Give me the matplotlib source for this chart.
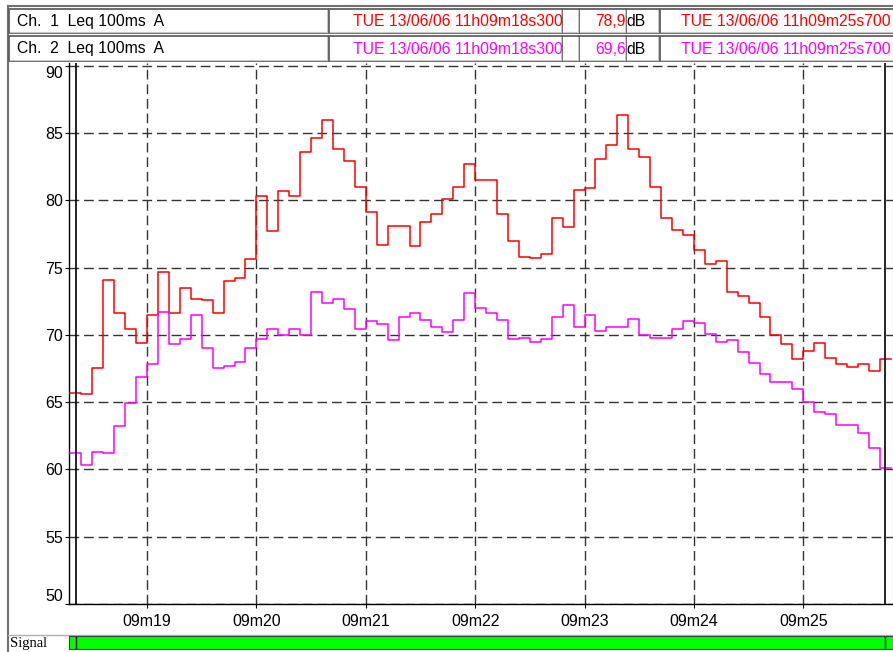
import matplotlib
matplotlib.use('Agg')
import matplotlib.pyplot as plt
import numpy as np
from matplotlib.patches import Rectangle

plt.rcParams['font.family'] = ['Liberation Sans', 'DejaVu Sans']

W, H = 893, 652

# Leq 100ms, one value per 100 ms bin, starting 11h09m18s300
T_START = 18.3
STEP = 0.1
ch1_db = [65.7, 65.6, 67.5, 74.1, 71.6, 70.4, 69.4, 71.5, 74.7, 71.6, 73.5, 72.7, 72.6, 71.6, 74.0, 74.2, 75.6, 80.3, 77.7, 80.7, 80.3,
          83.6, 84.6, 86.0, 83.8, 82.9, 81.0, 79.1, 76.7, 78.1, 78.1, 76.6, 78.4, 79.0, 80.1, 81.0, 82.7, 81.5, 81.5, 79.0, 77.0, 75.8,
          75.7, 76.0, 78.7, 78.0, 80.8, 80.9, 83.1, 84.1, 86.3, 83.8, 83.2, 81.0, 78.7, 77.8, 77.4, 76.3, 75.3, 75.5, 73.2, 72.9, 72.4,
          71.3, 70.0, 69.3, 68.2, 68.8, 69.4, 68.3, 67.8, 67.6, 67.8, 67.3, 68.2]
ch2_db = [61.2, 60.3, 61.3, 61.2, 63.2, 64.9, 66.9, 67.8, 71.7, 69.3, 69.7, 71.5, 69.0, 67.5, 67.7, 68.0, 69.0, 69.7, 70.4, 70.0, 70.4,
          70.0, 73.2, 72.4, 72.7, 71.9, 70.4, 71.0, 70.8, 69.6, 71.3, 71.6, 71.1, 70.6, 70.2, 71.1, 73.1, 72.0, 71.6, 71.1, 69.7, 69.8,
          69.5, 69.7, 71.3, 72.2, 70.6, 71.5, 70.3, 70.6, 70.6, 71.2, 70.0, 69.8, 69.8, 70.4, 71.0, 70.9, 70.1, 69.5, 69.6, 68.7, 67.9,
          67.1, 66.5, 66.5, 66.0, 65.0, 64.3, 64.1, 63.3, 63.3, 62.7, 61.6, 60.1]

x_ticks = [19, 20, 21, 22, 23, 24, 25]
x_labels = ['09m19', '09m20', '09m21', '09m22', '09m23', '09m24', '09m25']
y_ticks = [50, 55, 60, 65, 70, 75, 80, 85, 90]

cursors = [18.35, 25.75]

channels = ['Ch.  1  Leq 100ms  A', 'Ch.  2  Leq 100ms  A']
t_first = ['TUE 13/06/06 11h09m18s300', 'TUE 13/06/06 11h09m18s300']
t_last = ['TUE 13/06/06 11h09m25s700', 'TUE 13/06/06 11h09m25s700']
leq_vals = ['78,9', '69,6']
colors = ['#ff0000', '#ff00ff']

HDR_FS = 11.3


def px_axes(fig, x0, y0, x1, y1, **kw):
  # pixel box (top-left origin) -> figure fraction axes
  return fig.add_axes([x0 / W, 1 - y1 / H, (x1 - x0) / W, (y1 - y0) / H], **kw)


def box(ax, x0, y0, x1, y1):
  ax.add_patch(Rectangle((x0, y0), x1 - x0, y1 - y0, facecolor='white',
                         edgecolor='#606060', linewidth=1.3))
  ax.plot([x0 + 1, x1 - 1], [y1 - 1, y1 - 1], color='#c8c8c8', lw=0.8)
  ax.plot([x1 - 1, x1 - 1], [y0 + 1, y1 - 1], color='#c8c8c8', lw=0.8)


fig = plt.figure(figsize=(W / 100, H / 100), dpi=100)

# main chart
ax = px_axes(fig, 69, 63, 893, 604)
t = T_START + STEP * np.arange(len(ch1_db))
edges = np.append(t, t[-1] + STEP)
for vals, col in zip([ch1_db, ch2_db], colors):
  ax.plot(edges, np.append(vals, vals[-1]), drawstyle='steps-post', color=col, lw=1.1, zorder=3)

for c in cursors:
  ax.axvline(c, color='black', lw=1.2, zorder=4)

ax.set_xlim(18.287, 25.82)
ax.set_ylim(50, 90.2)
ax.set_xticks(x_ticks)
ax.set_xticklabels(x_labels, fontsize=11.5)
ax.set_yticks(y_ticks)
ax.set_yticklabels([str(v) for v in y_ticks], fontsize=11.5)
# end labels are kept inside the plot height
ylabels = ax.get_yticklabels()
ylabels[0].set_va('bottom')
ylabels[-1].set_va('top')
ax.tick_params(axis='both', direction='out', length=3, width=0.8, pad=1.5)
ax.tick_params(axis='x', pad=4)
ax.grid(True, color='#333333', linestyle=(0, (7, 3.5)), linewidth=1.0)
ax.spines['top'].set_visible(False)
ax.spines['right'].set_color('#808080')
ax.spines['left'].set_linewidth(1.0)
ax.spines['bottom'].set_linewidth(1.0)

# signal bar, same time scale
sig = px_axes(fig, 69, 636, 893, 649, sharex=ax)
sig.axvspan(18.2, 26, color='#00ff00')
for c in cursors:
  sig.axvline(c, color='black', lw=1.0)
sig.set_yticks([])
sig.tick_params(axis='x', bottom=False, labelbottom=False)
for s in sig.spines.values():
  s.set_color('#404040')
  s.set_linewidth(0.8)

# header, frame and labels in pixel coords
ov = fig.add_axes([0, 0, 1, 1], zorder=-1)
ov.set_xlim(0, W)
ov.set_ylim(H, 0)
ov.axis('off')
ov.plot([8, 8], [6, H], color='#707070', lw=1.5)
ov.plot([8, W], [6, 6], color='#707070', lw=1.5)
ov.plot([8, W], [634.5, 634.5], color='#b0b0b0', lw=1.0)

ov2 = fig.add_axes([0, 0, 1, 1], zorder=5)
ov2.set_xlim(0, W)
ov2.set_ylim(H, 0)
ov2.axis('off')
rows = [(9, 33), (36, 61)]
for i, (y0, y1) in enumerate(rows):
  yc = (y0 + y1) / 2 + 0.5
  box(ov2, 9, y0, 328, y1)
  box(ov2, 329, y0, 562, y1)
  box(ov2, 562, y0, 579, y1)
  box(ov2, 579, y0, 626, y1)
  box(ov2, 626, y0, 659, y1)
  box(ov2, 660, y0, 905, y1)
  ov2.text(17, yc, channels[i], fontsize=HDR_FS, ha='left', va='center', color='black')
  ov2.text(563, yc, t_first[i], fontsize=HDR_FS, ha='right', va='center', color=colors[i])
  ov2.text(626, yc, leq_vals[i], fontsize=HDR_FS, ha='right', va='center', color=colors[i])
  ov2.text(626, yc, 'dB', fontsize=HDR_FS, ha='left', va='center', color='black')
  ov2.text(891, yc, t_last[i], fontsize=HDR_FS, ha='right', va='center', color=colors[i])

ov2.text(10, 643, 'Signal', fontsize=10.5, ha='left', va='center', family=['Liberation Serif', 'DejaVu Serif'])

fig.savefig('out.png', dpi=100)
plt.close(fig)
